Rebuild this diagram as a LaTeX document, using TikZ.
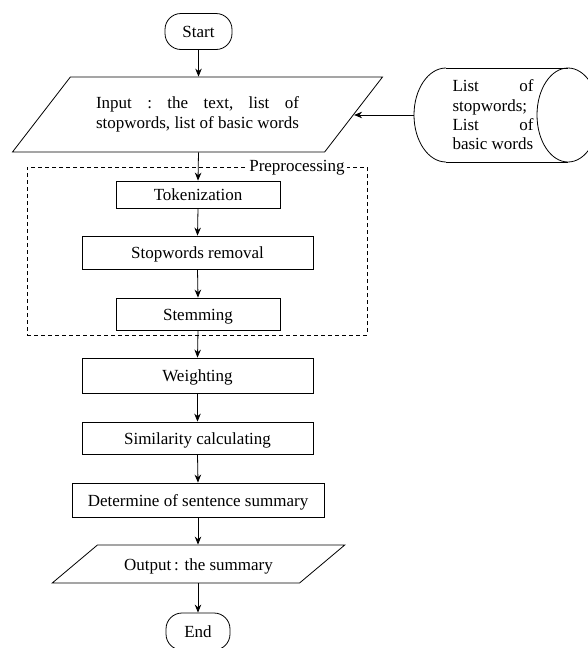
\documentclass[tikz,border=0pt]{standalone}
\usepackage{fontspec}
\setmainfont{Liberation Serif}
\usetikzlibrary{arrows.meta,shapes.geometric}
\begin{document}
\begin{tikzpicture}[x=1pt,y=-1pt,
  every node/.style={font=\fontsize{17}{20.5}\selectfont, inner sep=0pt},
  oneline/.style={text height=13pt, text depth=1pt},
  procbox/.style={draw, line width=0.8pt, rectangle, oneline},
  termbox/.style={draw, line width=0.8pt, rectangle, rounded corners=16pt, minimum width=67pt, minimum height=36pt, oneline},
  iobox/.style={draw, line width=0.8pt, trapezium, trapezium stretches=true, inner sep=2pt},
  flow/.style={-{Stealth[length=8pt,width=6.5pt]}, line width=0.8pt}
]
\useasboundingbox (0,0) rectangle (587,648);

\node[termbox] (start) at (198.5,31.5) {Start};

\node[iobox, align=left, trapezium left angle=40.4, trapezium right angle=139.6,
      minimum width=371pt, minimum height=75pt] (inp) at (197.5,114.5)
  {\hbox to 203pt{Input\hfill:\hfill the\hfill text,\hfill list\hfill of}\\
   \hbox to 203pt{stopwords, list of basic words}};

% database cylinder
\draw[line width=0.8pt] (446,68) -- (568,68);
\draw[line width=0.8pt] (446,162) -- (568,162);
\draw[line width=0.8pt] (446,68) arc[start angle=90, end angle=270, x radius=32pt, y radius=47pt];
\draw[line width=0.8pt] (568,115) ellipse[x radius=31pt, y radius=47pt];
\node[align=left, font=\fontsize{17}{19.3}\selectfont] (db) at (493,115)
  {\hbox to 81pt{List\hfill of}\\ stopwords;\\ \hbox to 81pt{List\hfill of}\\ basic words};
\coordinate (dbw) at (414,115);

% preprocessing group
\node[draw, dash pattern=on 4pt off 3pt, line width=0.7pt, minimum width=340pt, minimum height=168pt] (pre) at (197,251) {};
\node[fill=white, inner xsep=2pt, oneline] (prelabel) at (297,165) {Preprocessing};

\node[procbox, minimum width=164pt, minimum height=27pt] (tok) at (198,194.5) {Tokenization};
\node[procbox, minimum width=231pt, minimum height=33pt] (stop) at (197.5,252.5) {Stopwords removal};
\node[procbox, minimum width=164pt, minimum height=32pt] (stem) at (198,314) {Stemming};
\node[procbox, minimum width=231pt, minimum height=35pt] (wgt) at (197.5,375.5) {Weighting};
\node[procbox, minimum width=231pt, minimum height=32pt] (sim) at (197.5,438) {Similarity calculating};
\node[procbox, minimum width=252pt, minimum height=34pt] (det) at (198,500) {Determine of sentence summary};

\node[iobox, oneline, trapezium left angle=27.8, trapezium right angle=152.2,
      minimum width=293pt, minimum height=38pt] (out) at (198.5,564) {Output\,: the summary};

\node[termbox, minimum width=64pt, minimum height=37pt] (end) at (198,631.5) {End};

\draw[flow] (start.south) -- (start.south |- inp.north);
\draw[flow] (dbw) -- (inp.east |- dbw);
\draw[flow] (start.south |- inp.south) -- (tok.north);
\draw[flow] (tok.south) -- (stop.north);
\draw[flow] (stop.south) -- (stem.north);
\draw[flow] (stem.south) -- (wgt.north);
\draw[flow] (wgt.south) -- (sim.north);
\draw[flow] (sim.south) -- (det.north);
\draw[flow] (det.south) -- (det.south |- out.north);
\draw[flow] (det.south |- out.south) -- (end.north);
\end{tikzpicture}
\end{document}
